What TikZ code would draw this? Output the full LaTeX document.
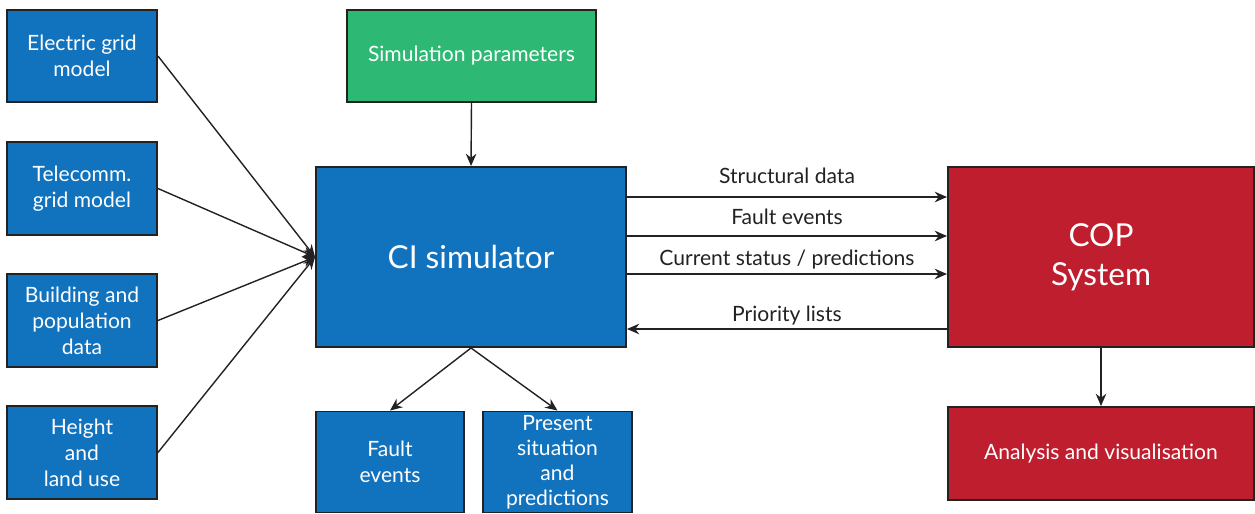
\documentclass[tikz,border=0pt]{standalone}
\usepackage{fontspec}
\setmainfont{Lato}
\usetikzlibrary{arrows.meta,calc}
\definecolor{boxblue}{HTML}{1172BE}
\definecolor{boxgreen}{HTML}{2DB873}
\definecolor{boxred}{HTML}{BE1E2D}
\definecolor{edgecol}{HTML}{222222}
\def\px{0.02cm}
\tikzset{
  box/.style={draw=edgecol, line width=1.1pt, inner sep=0pt, align=center, text=white,
    font=\fontsize{12}{14.7}\selectfont},
  bluebox/.style={box, fill=boxblue},
  greenbox/.style={box, fill=boxgreen},
  redbox/.style={box, fill=boxred},
  arr/.style={draw=edgecol, line width=0.8pt, -{Stealth[length=7pt,width=6pt]}},
  lbl/.style={text=edgecol, font=\fontsize{12}{14}\selectfont, inner sep=0pt},
}
\begin{document}
\begin{tikzpicture}[x=0.02cm,y=-0.02cm]
\useasboundingbox (0,0) rectangle (1255,514);
% left inputs
\node[bluebox, minimum width=150*\px, minimum height=92*\px] (eg) at (82,56) {Electric grid\\model};
\node[bluebox, minimum width=150*\px, minimum height=93*\px] (tg) at (82,188.5) {Telecomm.\\grid model};
\node[bluebox, minimum width=150*\px, minimum height=93*\px] (bp) at (82,320.5) {Building and\\population\\data};
\node[bluebox, minimum width=150*\px, minimum height=93*\px] (hl) at (82,452.5) {Height\\and\\land use};
% simulation parameters
\node[greenbox, minimum width=249*\px, minimum height=92*\px] (sp) at (471.5,56) {Simulation parameters};
% CI simulator
\node[bluebox, minimum width=310*\px, minimum height=180*\px, font=\fontsize{18}{21}\selectfont] (ci) at (471,257) {CI simulator};
% COP
\node[redbox, minimum width=306*\px, minimum height=180*\px, font=\fontsize{18}{22}\selectfont] (cop) at (1101,257) {COP\\System};
% bottom boxes
\node[bluebox, minimum width=148*\px, minimum height=101*\px] (fe) at (390,462) {Fault\\events};
\node[bluebox, minimum width=149*\px, minimum height=101*\px, font=\fontsize{12}{14.2}\selectfont] (ps) at (557.5,462) {Present\\situation\\and\\predictions};
\node[redbox, minimum width=306*\px, minimum height=93*\px] (av) at (1101,453.5) {Analysis and visualisation};
% connectors
\draw[arr] (eg.east) -- (ci.west);
\draw[arr] (tg.east) -- (ci.west);
\draw[arr] (bp.east) -- (ci.west);
\draw[arr] (hl.east) -- (ci.west);
\draw[arr] (sp.south) -- (ci.north);
\draw[arr] ([yshift=60*\px]ci.east) -- node[lbl, above=13*\px] {Structural data} ([yshift=60*\px]cop.west);
\draw[arr] ([yshift=21*\px]ci.east) -- node[lbl, above=11*\px] {Fault events} ([yshift=21*\px]cop.west);
\draw[arr] ([yshift=-17*\px]ci.east) -- node[lbl, above=4*\px] {Current status / predictions} ([yshift=-17*\px]cop.west);
\draw[arr] ([yshift=-72*\px]cop.west) -- node[lbl, above=3*\px] {Priority lists} ([yshift=-72*\px]ci.east);
\draw[arr] (ci.south) -- (fe.north);
\draw[arr] (ci.south) -- (ps.north);
\draw[arr] (cop.south) -- (av.north);
\end{tikzpicture}
\end{document}
